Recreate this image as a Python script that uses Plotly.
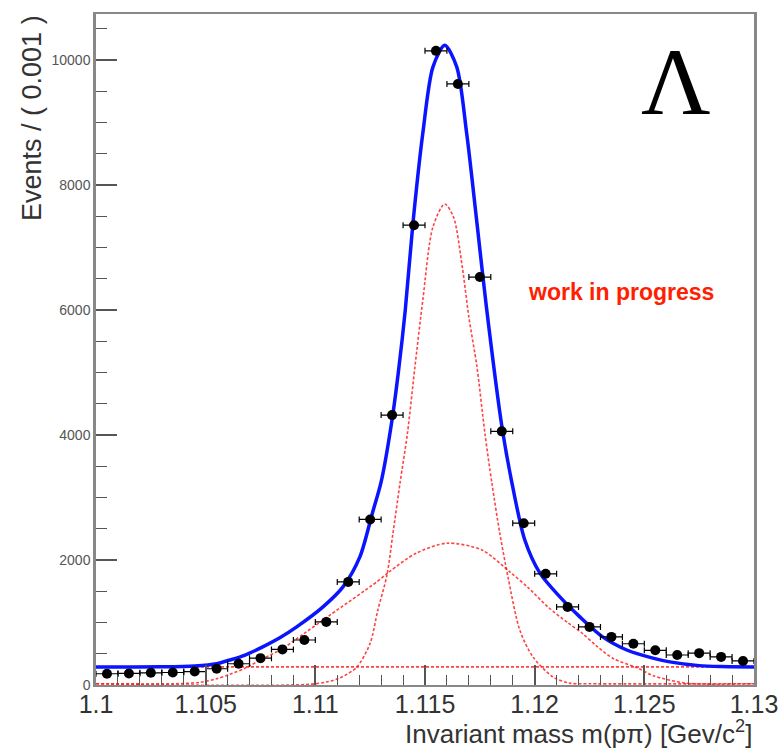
import plotly.graph_objects as go

# ---- data ----
bin_centers = [1.1005, 1.1015, 1.1025, 1.1035, 1.1045, 1.1055, 1.1065, 1.1075, 1.1085, 1.1095,
               1.1105, 1.1115, 1.1125, 1.1135, 1.1145, 1.1155, 1.1165, 1.1175, 1.1185, 1.1195,
               1.1205, 1.1215, 1.1225, 1.1235, 1.1245, 1.1255, 1.1265, 1.1275, 1.1285, 1.1295]
counts = [180, 185, 195, 200, 215, 260, 340, 430, 570, 720,
          1010, 1650, 2650, 4320, 7360, 10150, 9620, 6530, 4060, 2590,
          1780, 1250, 930, 770, 660, 555, 480, 510, 450, 385]
bin_half_width = 0.0005

total_x = [1.1000, 1.1030, 1.1045, 1.1055, 1.1061, 1.1068, 1.1076, 1.1084, 1.10915, 1.11035,
           1.11126, 1.11203, 1.1126, 1.1130, 1.1135, 1.1138, 1.1141, 1.11445, 1.1149, 1.11536,
           1.1159, 1.11645, 1.1169, 1.11737, 1.1178, 1.1185, 1.1190, 1.11955, 1.12024, 1.12115,
           1.12206, 1.1231, 1.1242, 1.12539, 1.12616, 1.1275, 1.1285, 1.1300]
total_y = [290, 292, 305, 340, 400, 480, 610, 760, 930, 1250,
           1570, 2050, 2750, 3250, 4250, 5050, 6000, 7390, 8830, 9890,
           10240, 9890, 8830, 7390, 6050, 4150, 3170, 2320, 1790, 1410,
           1090, 770, 560, 430, 370, 310, 295, 290]

narrow_x = [1.1000, 1.1100, 1.1111, 1.1119, 1.1125, 1.11285, 1.11326, 1.11354, 1.11386, 1.1142,
            1.11454, 1.1149, 1.11536, 1.1159, 1.1163, 1.1167, 1.1170, 1.11737, 1.11773, 1.11805,
            1.11841, 1.1188, 1.11932, 1.11992, 1.12083, 1.1216, 1.1225, 1.1300]
narrow_y = [20, 20, 110, 290, 670, 1200, 1750, 2430, 3230, 4030,
            5090, 6160, 7330, 7700, 7490, 6690, 5890, 5090, 4030, 3230,
            2430, 1700, 880, 450, 130, 30, 20, 20]

broad_x = [1.1000, 1.1035, 1.1047, 1.1055, 1.1061, 1.1068, 1.1076, 1.1085, 1.10915, 1.11067,
           1.1128, 1.1134, 1.1146, 1.1160, 1.1176, 1.1189, 1.1197, 1.1206, 1.1215, 1.1222,
           1.1228, 1.1236, 1.1247, 1.1254, 1.1269, 1.1300]
broad_y = [20, 20, 40, 100, 170, 270, 420, 580, 740, 1120,
           1650, 1820, 2110, 2270, 2160, 1800, 1560, 1250, 1000, 820,
           630, 420, 270, 150, 30, 20]

bkg_x = [1.100, 1.130]
bkg_y = [290, 290]

x_tickvals = [1.1, 1.105, 1.11, 1.115, 1.12, 1.125, 1.13]
x_ticktext = ["1.1", "1.105", "1.11", "1.115", "1.12", "1.125", "1.13"]
y_tickvals = [0, 2000, 4000, 6000, 8000, 10000]
y_ticktext = ["0", "2000", "4000", "6000", "8000", "10000"]

# ---- figure ----
fig = go.Figure()
red_line = dict(color="rgba(255,20,20,0.8)", width=1.6, dash="3px,2px")

fig.add_trace(go.Scatter(x=bkg_x, y=bkg_y, mode="lines", line=red_line, showlegend=False))
fig.add_trace(go.Scatter(x=broad_x, y=broad_y, mode="lines", line=dict(red_line, shape="spline", smoothing=0.8),
                         showlegend=False))
fig.add_trace(go.Scatter(x=narrow_x, y=narrow_y, mode="lines", line=dict(red_line, shape="spline", smoothing=0.8),
                         showlegend=False))
fig.add_trace(go.Scatter(x=total_x, y=total_y, mode="lines",
                         line=dict(color="#0a14ff", width=3.5, shape="spline", smoothing=0.8),
                         showlegend=False))
fig.add_trace(go.Scatter(x=bin_centers, y=counts, mode="markers",
                         marker=dict(color="black", size=10),
                         error_x=dict(type="constant", value=bin_half_width, color="black",
                                      thickness=1.2, width=3),
                         showlegend=False))

fig.update_layout(
    width=779, height=748,
    margin=dict(l=96, r=25, t=14, b=63, autoexpand=False),
    paper_bgcolor="white", plot_bgcolor="white",
    font=dict(family="Liberation Sans, Arial, sans-serif"),
    xaxis=dict(range=[1.1, 1.13], tickmode="array", tickvals=x_tickvals, ticktext=x_ticktext,
               ticks="inside", ticklen=20, tickwidth=1.5, tickcolor="#555",
               minor=dict(ticks="inside", ticklen=10, tickwidth=1.2, tickcolor="#555",
                          tickmode="linear", tick0=1.1, dtick=0.001),
               showline=True, linecolor="#888", linewidth=2, mirror=True,
               showgrid=False, zeroline=False, ticklabeloverflow="allow", automargin=False,
               ticklabelstandoff=-4,
               tickfont=dict(size=25, color="#333")),
    yaxis=dict(range=[0, 10740], tickmode="array", tickvals=y_tickvals, ticktext=y_ticktext,
               ticks="inside", ticklen=21, tickwidth=1.5, tickcolor="#555",
               minor=dict(ticks="inside", ticklen=11, tickwidth=1.2, tickcolor="#555",
                          tickmode="linear", tick0=0, dtick=500),
               showline=True, linecolor="#888", linewidth=2.5, mirror=True,
               showgrid=False, zeroline=False, automargin=False,
               tickfont=dict(size=14, color="#555")),
    annotations=[
        dict(text="Events / ( 0.001 )", textangle=-90, xref="paper", yref="paper",
             x=-0.0973, y=0.845, xanchor="center", yanchor="middle", showarrow=False,
             font=dict(size=27, color="#333")),
        dict(text="Invariant mass m(p\u03c0) [Gev/c<sup>2</sup>]", xref="paper", yref="paper",
             x=1.0, y=-0.071, xanchor="right", yanchor="middle", showarrow=False,
             font=dict(size=26, color="#333")),
        dict(text="\u039b", xref="paper", yref="paper", x=0.882, y=0.900,
             xanchor="center", yanchor="middle", showarrow=False,
             font=dict(size=96, color="black", family="Liberation Serif, Times New Roman, serif")),
        dict(text="<b>work in progress</b>", xref="paper", yref="paper", x=0.798, y=0.586,
             xanchor="center", yanchor="middle", showarrow=False,
             font=dict(size=23, color="#ff2000")),
    ],
)

fig.write_html("out.html")
